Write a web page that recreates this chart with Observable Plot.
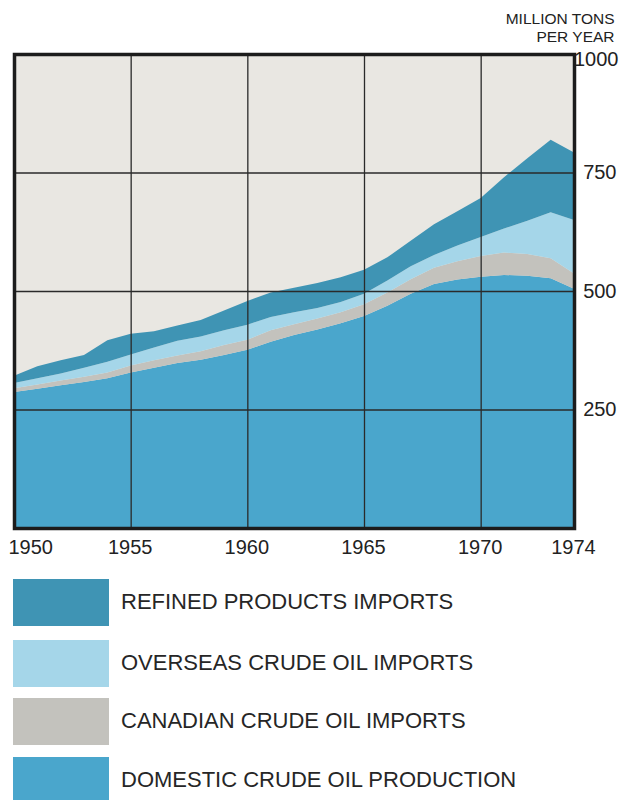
<!DOCTYPE html>
<html>
<head>
<meta charset="utf-8">
<script src="https://cdn.jsdelivr.net/npm/d3@7"></script>
<script src="https://cdn.jsdelivr.net/npm/@observablehq/plot@0.6"></script>
<style>
  html, body { margin: 0; padding: 0; background: #ffffff; }
  #wrap { position: relative; width: 620px; height: 800px; overflow: hidden; font-family: "Liberation Sans", Arial, Helvetica, sans-serif; }
  #chart svg { display: block; }
  .sw { position: absolute; left: 13px; width: 96px; height: 47px; }
  .lab { position: absolute; left: 121px; font-size: 22px; color: #262626; line-height: 22px; white-space: nowrap; }
</style>
</head>
<body>
<div id="wrap">
  <div id="chart"></div>
  <div id="legend"></div>
</div>
<script>
// ---- data (million tons per year) ----
const years = [1950,1951,1952,1953,1954,1955,1956,1957,1958,1959,1960,1961,1962,1963,1964,1965,1966,1967,1968,1969,1970,1971,1972,1973,1974];
const domestic = [287,294,301,308,316,328,338,348,355,365,376,393,407,419,432,447,469,494,515,524,530,534,532,527,505];
const canadian = [8,9,10,11,12,15,16,16,18,21,21,24,23,23,23,25,28,31,34,39,44,47,46,42,32];
const overseas = [11,13,15,19,23,23,27,31,31,31,32,28,25,22,22,22,25,27,27,33,40,51,70,97,113];
const refined  = [15,25,28,27,45,44,34,32,35,42,50,52,52,53,52,51,49,54,65,72,82,108,132,153,142];

const seriesNames = ["DOMESTIC CRUDE OIL PRODUCTION","CANADIAN CRUDE OIL IMPORTS","OVERSEAS CRUDE OIL IMPORTS","REFINED PRODUCTS IMPORTS"];
const seriesColors = ["#4aa6cc","#c3c2bd","#a5d6e9","#3f94b4"];
const legendOrder = ["REFINED PRODUCTS IMPORTS","OVERSEAS CRUDE OIL IMPORTS","CANADIAN CRUDE OIL IMPORTS","DOMESTIC CRUDE OIL PRODUCTION"];
const xTicks = [1950,1955,1960,1965,1970,1974];
const xGrid = [1955,1960,1965,1970];
const yTicks = [250,500,750,1000];
const yGrid = [250,500,750];
const unitLines = ["MILLION TONS","PER YEAR"];

const seriesValues = [domestic, canadian, overseas, refined];
const data = years.flatMap((yr, i) => seriesNames.map((s, k) => ({year: yr, series: s, value: seriesValues[k][i]})));

const font = "Liberation Sans, Arial, Helvetica, sans-serif";
const chart = Plot.plot({
  width: 620,
  height: 570,
  marginLeft: 14,
  marginRight: 46,
  marginTop: 54,
  marginBottom: 42,
  style: {fontFamily: font, background: "transparent", overflow: "visible"},
  x: {domain: [1950, 1974], axis: null},
  y: {domain: [0, 1000], axis: null},
  color: {domain: seriesNames, range: seriesColors},
  marks: [
    Plot.frame({fill: "#e9e7e2", stroke: null}),
    Plot.areaY(data, {x: "year", y: "value", fill: "series", order: seriesNames}),
    Plot.ruleX(xGrid, {stroke: "#2a2a2a", strokeWidth: 1.3}),
    Plot.ruleY(yGrid, {stroke: "#2a2a2a", strokeWidth: 1.3}),
    Plot.frame({stroke: "#1c1c1c", strokeWidth: 3.5}),
    // y tick labels (right side)
    Plot.text(yTicks.filter(d => d < 1000), {x: () => 1974, y: d => d, text: d => String(d), textAnchor: "end", dx: 42, fontSize: 20, fill: "#222"}),
    Plot.text(yTicks.filter(d => d === 1000), {x: () => 1974, y: d => d, text: d => String(d), textAnchor: "end", dx: 44, dy: 5, fontSize: 20, fill: "#222"}),
    // x tick labels
    Plot.text(xTicks.filter(d => d === 1950), {x: d => d, y: () => 0, text: d => String(d), textAnchor: "start", dx: -6, dy: 19, fontSize: 20, fill: "#222"}),
    Plot.text(xTicks.filter(d => d !== 1950), {x: d => d, y: () => 0, text: d => String(d), textAnchor: "middle", dx: -1, dy: 19, fontSize: 20, fill: "#222"}),
    // unit label
    Plot.text([unitLines[0]], {x: () => 1974, y: () => 1000, text: d => d, textAnchor: "end", lineAnchor: "bottom", dx: 40, dy: -31, fontSize: 15.5, fill: "#222"}),
    Plot.text([unitLines[1]], {x: () => 1974, y: () => 1000, text: d => d, textAnchor: "end", lineAnchor: "bottom", dx: 40, dy: -13, fontSize: 15.5, fill: "#222"})
  ]
});
document.getElementById("chart").appendChild(chart);

// legend
const legendTops = [579, 640, 698, 757];
const legend = document.getElementById("legend");
legendOrder.forEach((name, i) => {
  const sw = document.createElement("div");
  sw.className = "sw";
  sw.style.top = legendTops[i] + "px";
  sw.style.background = seriesColors[seriesNames.indexOf(name)];
  legend.appendChild(sw);
  const lab = document.createElement("div");
  lab.className = "lab";
  lab.style.top = (legendTops[i] + 12) + "px";
  lab.textContent = name;
  legend.appendChild(lab);
});
</script>
</body>
</html>
